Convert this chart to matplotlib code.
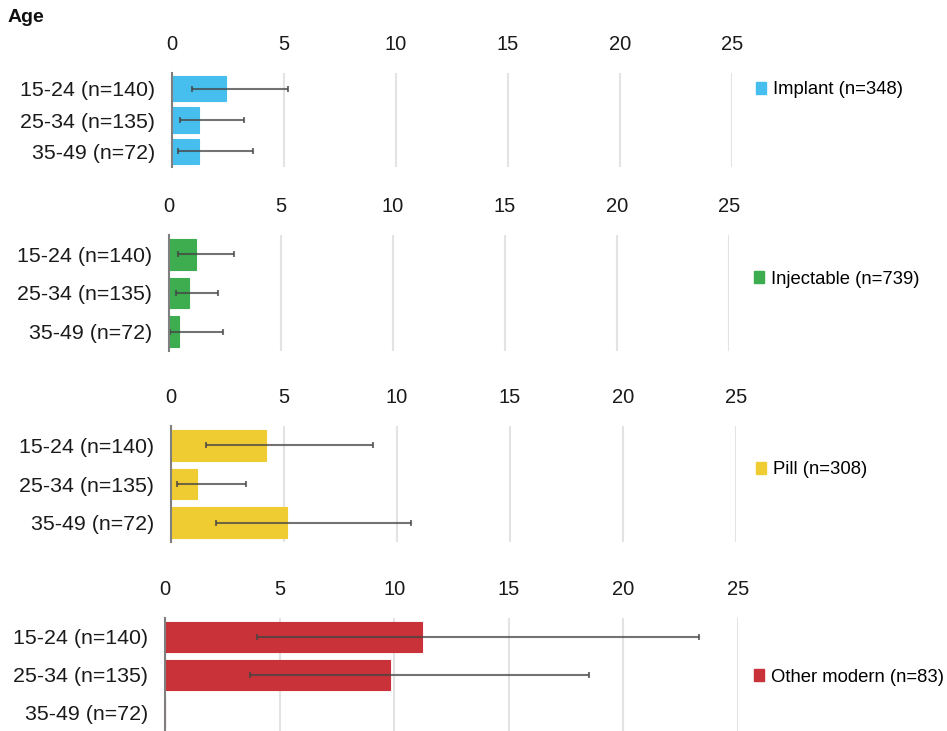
import matplotlib
matplotlib.use("Agg")
import matplotlib.pyplot as plt
from matplotlib.patches import Patch
import numpy as np

plt.rcParams['font.family'] = ['Liberation Sans', 'DejaVu Sans']

# Age groups (top to bottom)
age_groups = ["15-24 (n=140)", "25-34 (n=135)", "35-49 (n=72)"]

# Method names shown in the legends
methods = ["Implant (n=348)", "Injectable (n=739)", "Pill (n=308)", "Other modern (n=83)"]
colors = ["#47BFEE", "#3DAD50", "#F0CC33", "#C83238"]

# Percent values per age group, with confidence interval bounds
implant = [2.4, 1.2, 1.2]
implant_lo = [0.9, 0.35, 0.25]
implant_hi = [5.2, 3.2, 3.6]

injectable = [1.2, 0.9, 0.45]
injectable_lo = [0.4, 0.3, 0.05]
injectable_hi = [2.9, 2.2, 2.4]

pill = [4.2, 1.15, 5.15]
pill_lo = [1.55, 0.25, 2.0]
pill_hi = [8.95, 3.3, 10.6]

other = [11.2, 9.8, 0.0]
other_lo = [4.0, 3.7, None]
other_hi = [23.3, 18.5, None]

x_ticks = [0, 5, 10, 15, 20, 25]

series = [
    (implant, implant_lo, implant_hi),
    (injectable, injectable_lo, injectable_hi),
    (pill, pill_lo, pill_hi),
    (other, other_lo, other_hi),
]

W, H = 947, 731
fig = plt.figure(figsize=(W / 100, H / 100), dpi=100)

# Panel boxes in pixels: left, top, right, bottom
boxes = [
    (172, 73, 732, 167),
    (169, 235, 729, 351),
    (171, 426, 736, 542),
    (165, 618, 738, 732),
]
legend_pos = [(756, 90), (754, 279), (756, 470), (754, 677)]

for i, ((vals, lo, hi), color, name) in enumerate(zip(series, colors, methods)):
    l, t, r, b = boxes[i]
    ax = fig.add_axes([l / W, 1 - b / H, (r - l) / W, (b - t) / H])
    y = np.arange(len(age_groups))
    ax.barh(y, vals, height=0.8, color=color, edgecolor=color, linewidth=0.8,
            zorder=2)
    # error bars where bounds exist
    for yi, v, a, c in zip(y, vals, lo, hi):
        if a is None:
            continue
        ax.errorbar(v, yi, xerr=[[v - a], [c - v]], fmt='none',
                    ecolor='#444444', alpha=0.75, elinewidth=1.5,
                    capsize=2.5, capthick=1.5, zorder=3)
    ax.set_xlim(0, 25)
    ax.set_ylim(-0.5, 2.5)
    ax.invert_yaxis()
    ax.set_yticks(y)
    ax.set_yticklabels(age_groups, fontsize=15.4, color='#1a1a1a')
    ax.set_xticks(x_ticks)
    ax.set_xticklabels([str(t) for t in x_ticks], fontsize=14.5, color='#1a1a1a')
    ax.xaxis.tick_top()
    ax.tick_params(axis='x', length=0, pad=14)
    ax.tick_params(axis='y', length=0, pad=12)
    ax.grid(axis='x', color='#e3e3e3', linewidth=1.5, zorder=0)
    ax.set_axisbelow(True)
    for s in ['top', 'right', 'bottom']:
        ax.spines[s].set_visible(False)
    ax.spines['left'].set_color('#7f7f7f')
    ax.spines['left'].set_linewidth(1.5)
    ax.spines['left'].set_zorder(4)

    lx, ly = legend_pos[i]
    fig.legend(handles=[Patch(facecolor=color, edgecolor=color)], labels=[name],
               loc='center left', bbox_to_anchor=(lx / W, 1 - ly / H),
               frameon=False, fontsize=13.3, handlelength=0.55,
               handleheight=0.55, handletextpad=0.35, borderpad=0,
               borderaxespad=0)

fig.text(8 / W, 1 - 18 / H, "Age", fontsize=14, fontweight='bold',
         va='center', ha='left', color='#111111')

fig.savefig("out.png", dpi=100)
